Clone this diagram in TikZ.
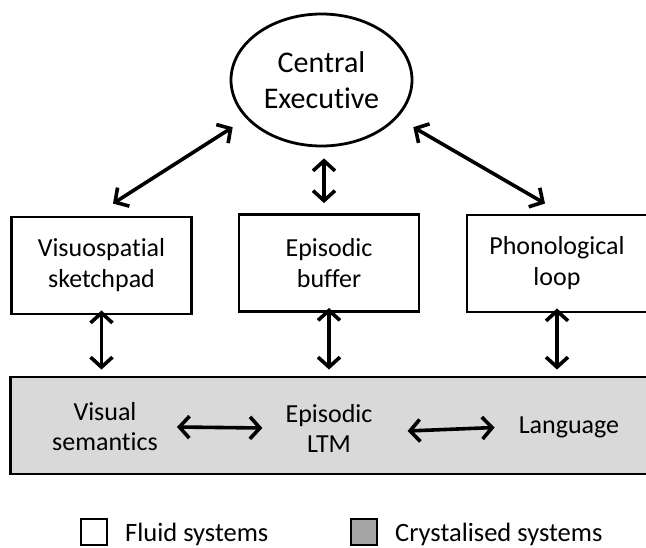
\documentclass[tikz,border=0pt]{standalone}
\usepackage{fontspec}
\setmainfont{Carlito}[Ligatures=NoCommon]
\usetikzlibrary{arrows.meta,shapes.geometric,calc}
\definecolor{boxgray}{HTML}{D9D9D9}
\definecolor{keygray}{HTML}{A6A6A6}
\begin{document}
\begin{tikzpicture}[x=1pt,y=-1pt,
  fluidbox/.style={draw, line width=2.9pt, minimum width=180pt, minimum height=97pt, inner sep=0pt, align=center, font=\fontsize{26}{31}\selectfont},
  cebox/.style={draw, ellipse, line width=2.8pt, minimum width=181pt, minimum height=132pt, inner sep=0pt, align=center, font=\fontsize{30}{36}\selectfont},
  crystbox/.style={draw, fill=boxgray, line width=2.9pt, minimum width=645pt, minimum height=97pt, inner sep=0pt},
  ltext/.style={inner sep=0pt, align=center, font=\fontsize{26}{30}\selectfont},
  keybox/.style={draw, line width=2.6pt, minimum width=26pt, minimum height=26pt, inner sep=0pt},
  keytext/.style={inner sep=0pt, anchor=base west, font=\fontsize{26.5}{30}\selectfont},
  arr/.style={line width=3.6pt, {Straight Barb[length=10pt,width=22pt]}-{Straight Barb[length=10pt,width=22pt]}}
]
\clip (0,0) rectangle (646,547);
% central executive
\node[cebox] (ce) at (321.5,80) {Central\\Executive};
% fluid systems
\node[fluidbox] (vs) at (101.5,265.5) {Visuospatial\\sketchpad};
\node[fluidbox] (eb) at (329,263) {Episodic\\buffer};
\node[fluidbox] (pl) at (557,263.5) {Phonological\\loop};
% crystallised systems
\node[crystbox] (ltm) at (333,425.5) {};
\node[ltext] (vsem) at (105,427) {Visual\\semantics};
\node[ltext] (eltm) at (329,428) {Episodic\\LTM};
\node[ltext] (lang) at (569,427.5) {Language};
% connectors
\draw[arr] ([shift={(11.5,-12)}]vs.north) -- ([shift={(-14.4,7.6)}]ce.208);
\draw[arr] ([shift={(2.5,11)}]ce.south) -- ([shift={(-5,-10)}]eb.north);
\draw[arr] ([shift={(17.4,7.6)}]ce.332) -- ([shift={(-12,-10)}]pl.north);
\draw[arr] ([yshift=5]vs.south) -- ($(vs.south |- ltm.north)+(0,-6)$);
\draw[arr] ([yshift=5]eb.south) -- ($(eb.south |- ltm.north)+(0,-6)$);
\draw[arr] ([yshift=5]pl.south) -- ($(pl.south |- ltm.north)+(0,-6)$);
\draw[arr] ([xshift=19]vsem.east) -- ([xshift=-23]eltm.west);
\draw[arr] ([xshift=35,yshift=-3]eltm.east) -- ([xshift=-24]lang.west);
% legend
\node[keybox] (kf) at (94,532) {};
\node[keytext] (kft) at (125,541) {Fluid systems};
\node[keybox, fill=keygray] (kc) at (364,532) {};
\node[keytext] (kct) at (395,541) {Crystalised systems};
\end{tikzpicture}
\end{document}
